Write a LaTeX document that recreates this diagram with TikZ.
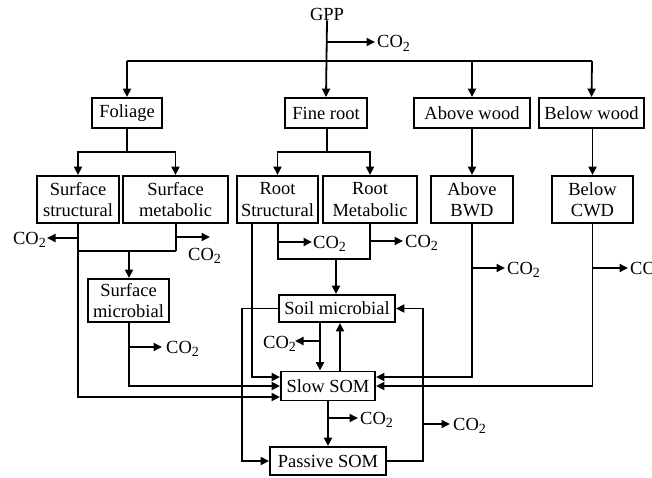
\documentclass[tikz,border=0pt]{standalone}
\usepackage{fontspec}
\setmainfont{Liberation Serif}
\usetikzlibrary{arrows.meta}
\newcommand{\cotwo}{CO\raisebox{-0.45ex}{\fontsize{14}{14}\selectfont 2}}
\begin{document}
\begin{tikzpicture}[x=1pt,y=-1pt,
  every node/.style={font=\fontsize{18.5}{21.5}\selectfont, inner sep=0pt},
  box/.style={draw, line width=1.9pt, align=center},
  ln/.style={line width=1.8pt},
  arr/.style={ln, -{Triangle[length=8.5pt,width=8pt]}}]
\useasboundingbox (0,0) rectangle (652,478);
\clip (0,0) rectangle (652,478);
\fill[white] (0,0) rectangle (652,478);

% nodes
\node (gpp) at (327,14) {GPP};
\node[box, minimum width=70pt, minimum height=30pt] (foliage) at (127,113) {Foliage};
\node[box, minimum width=82pt, minimum height=30pt] (fineroot) at (326,113) {Fine root};
\node[box, minimum width=116pt, minimum height=30pt] (abovewood) at (472,113) {Above wood};
\node[box, minimum width=105pt, minimum height=30pt] (belowwood) at (591.5,113) {Below wood};

\node[box, minimum width=82pt, minimum height=47pt] (surfstruct) at (78,199.5) {Surface\\structural};
\node[box, minimum width=105pt, minimum height=47pt] (surfmeta) at (175.5,199.5) {Surface\\metabolic};
\node[box, minimum width=81pt, minimum height=47pt] (rootstruct) at (277.5,199.5) {Root\\Structural};
\node[box, minimum width=94pt, minimum height=47pt] (rootmeta) at (370,199.5) {Root\\Metabolic};
\node[box, minimum width=82pt, minimum height=47pt] (abovebwd) at (472,199.5) {Above\\BWD};
\node[box, minimum width=81pt, minimum height=47pt] (belowcwd) at (592.5,199.5) {Below\\CWD};

\node[box, minimum width=81pt, minimum height=43pt] (surfmicro) at (128.5,300.5) {Surface\\microbial};
\node[box, minimum width=116pt, minimum height=27pt] (soilmicro) at (337,308.5) {Soil microbial};
\node[box, minimum width=94pt, minimum height=29pt] (slowsom) at (328,386) {Slow SOM};
\node[box, minimum width=116pt, minimum height=28pt] (passivesom) at (328,461) {Passive SOM};

% CO2 labels
\node[anchor=base west] (co1) at (377,48) {\cotwo};
\node[anchor=base east] (co2) at (46,244) {\cotwo};
\node[anchor=base west] (co3) at (188,260) {\cotwo};
\node[anchor=base west] (co4) at (166,353) {\cotwo};
\node[anchor=base west] (co5) at (313,248) {\cotwo};
\node[anchor=base west] (co6) at (405,247) {\cotwo};
\node[anchor=base west] (co7) at (507,274) {\cotwo};
\node[anchor=base west] (co8) at (630,274) {\cotwo};
\node[anchor=base west] (co9) at (263,348) {\cotwo};
\node[anchor=base west] (co10) at (360,424) {\cotwo};
\node[anchor=base west] (co11) at (453,430) {\cotwo};

% junction coordinates
\coordinate (bus) at (327,61);
\coordinate (fol) at (127,152);
\coordinate (fr) at (327,152);
\coordinate (sj) at (129,251);
\coordinate (rj) at (336,259);

% GPP
\draw[arr] (gpp.south) -- (fineroot.north);
\draw[arr] (327,42) -- (375,42);
\draw[ln] (127,61) -- (592,61);
\draw[arr] (127,61) -- (foliage.north);
\draw[arr] (472,61) -- (abovewood.north);
\draw[arr] (592,61) -- (belowwood.north);

% foliage / fine root splits
\draw[ln] (foliage.south) -- (fol);
\draw[arr] (fol) -| (surfstruct.north);
\draw[arr] (fol) -| (surfmeta.north);
\draw[ln] (fineroot.south -| fr) -- (fr);
\draw[arr] (fr) -| (rootstruct.north);
\draw[arr] (fr) -| (rootmeta.north);
\draw[arr] (abovewood.south) -- (abovebwd.north);
\draw[arr] (belowwood.south -| belowcwd.north) -- (belowcwd.north);

% surface litter
\draw[arr] (surfstruct.south) |- ([yshift=-11pt]slowsom.west);
\draw[arr] (78,238) -- (47,238);
\draw[ln] (78,251) -- (176,251);
\draw[ln] (surfmeta.south -| 176,0) -- (176,251);
\draw[arr] (176,237) -- (210,237);
\draw[arr] (sj) -- (surfmicro.north -| sj);
\draw[arr] (surfmicro.south -| sj) |- (slowsom.west);
\draw[arr] (129,347) -- (162,347);

% root litter
\draw[arr] ([xshift=-25.5pt]rootstruct.south) |- ([yshift=9pt]slowsom.west);
\draw[ln] (rootstruct.south -| 278,0) -- (278,259) -- (370,259) -- (rootmeta.south -| 370,0);
\draw[arr] (278,242) -- (312,242);
\draw[arr] (370,241) -- (403,241);
\draw[arr] (rj) -- (soilmicro.north -| rj);

% woody debris
\draw[arr] (abovebwd.south) |- ([yshift=9pt]slowsom.east);
\draw[arr] (472,268) -- (505,268);
\draw[arr] (belowcwd.south) |- (slowsom.east);
\draw[arr] (593,268) -- (628,268);

% soil pools
\draw[arr] (soilmicro.west) -- (242,308.5) |- (passivesom.west);
\draw[arr] ([xshift=-17pt]soilmicro.south) -- ([xshift=-8pt]slowsom.north);
\draw[arr] (320,341) -- (295,341);
\draw[arr] ([xshift=12pt]slowsom.north) -- ([xshift=3pt]soilmicro.south);
\draw[arr] (slowsom.south) -- (passivesom.north);
\draw[arr] (328,418) -- (358,418);
\draw[arr] (passivesom.east) -- (423,461) |- (soilmicro.east);
\draw[arr] (423,424) -- (450,424);
\end{tikzpicture}
\end{document}
